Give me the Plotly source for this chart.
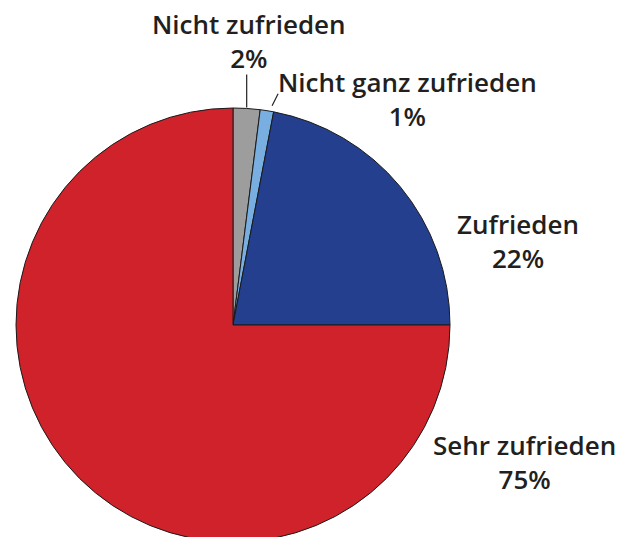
import math
import plotly.graph_objects as go

labels = ["Nicht zufrieden", "Nicht ganz zufrieden", "Zufrieden", "Sehr zufrieden"]
values = [2, 1, 22, 75]
colors = ["#9d9d9d", "#78aee0", "#233f8e", "#d0222a"]

W, H = 627, 560
CX, CY, R = 233, 325, 217  # pie centre/radius in pixels (from top-left)

def px(x):
    return x / W

def py(y):
    return (H - y) / H

fig = go.Figure(go.Pie(
    labels=labels,
    values=values,
    sort=False,
    direction="clockwise",
    rotation=0,
    marker=dict(colors=colors, line=dict(color="#1a1a1a", width=1)),
    textinfo="none",
    hoverinfo="label+percent",
    showlegend=False,
    domain=dict(x=[px(CX - R), px(CX + R)], y=[py(CY + R), py(CY - R)]),
))

# label positions (pixel centre of each two-line block)
label_pos = [(249, 41), (408, 99), (518, 241), (524, 462)]
total = sum(values)
font = dict(family="Open Sans", size=26, color="#231f20", weight=600)
for lab, val, (lx, ly) in zip(labels, values, label_pos):
    fig.add_annotation(
        x=px(lx), y=py(ly), xref="paper", yref="paper",
        text=f"{lab}<br>{round(100 * val / total)}%",
        showarrow=False, xanchor="center", yanchor="middle",
        font=font, align="center",
    )

# leader lines for the two small slices
cum = 0
mids = []
for v in values:
    mids.append((cum + v / 2) / total * 2 * math.pi)
    cum += v
ends = [(0, -33), (6, -12)]
for i, (dx, dy) in enumerate(ends):
    a = mids[i]
    x0 = CX + (R + 1) * math.sin(a)
    y0 = CY - (R + 1) * math.cos(a)
    if i == 1:
        x0 += 5
        y0 -= 4
    fig.add_shape(type="line", xref="paper", yref="paper",
                  x0=px(x0), y0=py(y0), x1=px(x0 + dx), y1=py(y0 + dy),
                  line=dict(color="#231f20", width=1.2))

fig.update_layout(
    width=W, height=H,
    margin=dict(l=0, r=0, t=0, b=0),
    paper_bgcolor="white",
    plot_bgcolor="white",
)

fig.write_html(
    "out.html",
    config={"displayModeBar": False},
    post_script="document.body.style.margin='0px';document.body.style.overflow='hidden';",
)
